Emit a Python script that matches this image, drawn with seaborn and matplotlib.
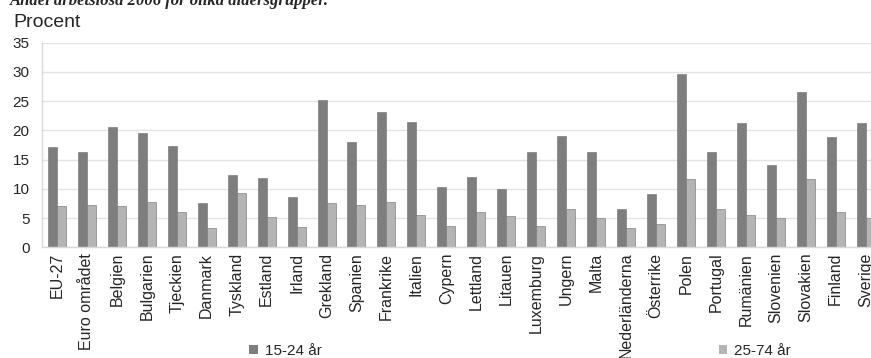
import pandas as pd
import seaborn as sns
import matplotlib.pyplot as plt
from matplotlib.patches import Patch

# data
lander = ["EU-27", "Euro området", "Belgien", "Bulgarien", "Tjeckien", "Danmark",
          "Tyskland", "Estland", "Irland", "Grekland", "Spanien", "Frankrike",
          "Italien", "Cypern", "Lettland", "Litauen", "Luxemburg", "Ungern",
          "Malta", "Nederländerna", "Österrike", "Polen", "Portugal", "Rumänien",
          "Slovenien", "Slovakien", "Finland", "Sverige"]
unga = [17.2, 16.3, 20.5, 19.6, 17.4, 7.5, 12.3, 11.8, 8.6, 25.2, 18.0, 23.1,
        21.5, 10.3, 12.1, 9.9, 16.3, 19.0, 16.3, 6.6, 9.1, 29.7, 16.3, 21.3,
        14.0, 26.6, 18.8, 21.3]
aldre = [7.0, 7.3, 7.0, 7.8, 6.0, 3.3, 9.3, 5.2, 3.4, 7.5, 7.3, 7.8,
         5.5, 3.7, 6.0, 5.3, 3.7, 6.5, 5.0, 3.3, 4.0, 11.6, 6.5, 5.5,
         5.0, 11.6, 6.0, 5.0]
grupper = ["15-24 år", "25-74 år"]
farger = ["#7e7e7e", "#b4b4b4"]

df = pd.DataFrame({
    "land": lander * 2,
    "procent": unga + aldre,
    "grupp": [grupper[0]] * len(lander) + [grupper[1]] * len(lander),
})

sns.set_style("white")
plt.rcParams["font.family"] = ["Liberation Sans", "DejaVu Sans"]

fig = plt.figure(figsize=(8.71, 3.58), dpi=100)
ax = fig.add_axes([42 / 871, 1 - 247.3 / 358, 1 - 42 / 871, (247.3 - 42.7) / 358])

sns.barplot(data=df, x="land", y="procent", hue="grupp", palette=farger,
            width=0.6, saturation=1, edgecolor="#6e6e6e", linewidth=0.4,
            legend=False, ax=ax)

ax.set_yticks(range(0, 36, 5))
ax.yaxis.grid(True, color="#e3e3e3", linewidth=1)
ax.set_axisbelow(True)
ax.set_xlabel("")
ax.set_ylabel("")

for s in ["top", "right"]:
    ax.spines[s].set_visible(False)
for s in ["left", "bottom"]:
    ax.spines[s].set_color("#d9d9d9")
    ax.spines[s].set_linewidth(1)

ax.set_xticks(range(len(lander)))
ax.set_xticklabels(lander, rotation=90, fontsize=11.5)
ax.set_xticks([i + 0.5 for i in range(-1, len(lander))], minor=True)
ax.tick_params(axis="x", which="major", length=0, pad=4)
ax.tick_params(axis="x", which="minor", direction="in", length=3, color="#c8c8c8")
ax.tick_params(axis="y", length=0, pad=9, labelsize=11)

# limits last, set_xticks widens the view otherwise
ax.set_ylim(0, 35)
ax.set_xlim(-0.5, -0.5 + (871 - 42) / 29.95)

fig.text(13 / 871, 1 - 27 / 358, "Procent", fontsize=14, va="baseline")
fig.text(10 / 871, 1 - 5 / 358, "Andel arbetslösa 2006 för olika åldersgrupper.",
         family=["Liberation Serif", "DejaVu Serif"], fontweight="bold",
         fontstyle="italic", fontsize=12, va="baseline")

handles = [Patch(facecolor=c, edgecolor="none") for c in farger]
ax.legend(handles, grupper, ncol=2, loc="center", frameon=False,
          bbox_to_anchor=(520 / 871, 1 - 351 / 358), bbox_transform=fig.transFigure,
          fontsize=11, handlelength=0.55, handleheight=0.55, handletextpad=0.45,
          columnspacing=26)

plt.savefig("out.png")
